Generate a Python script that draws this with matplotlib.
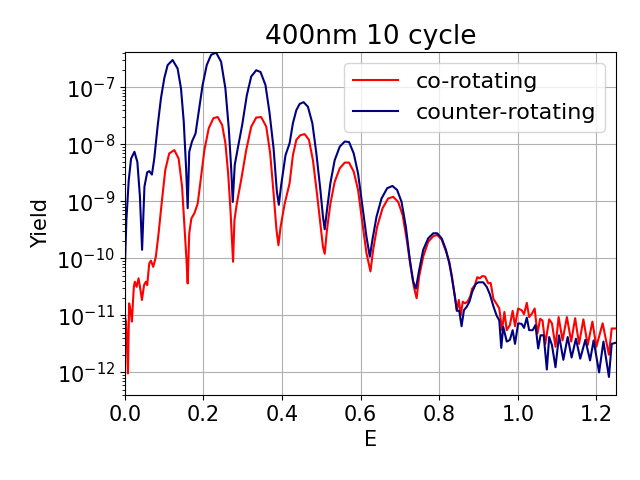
import numpy as np
import matplotlib
matplotlib.use('Agg')
import matplotlib.pyplot as plt

# energies and log10(yield)
co_E = [0.000, 0.0036, 0.008, 0.011, 0.0145, 0.018, 0.023, 0.0255, 0.030, 0.035,
        0.040, 0.0436, 0.049, 0.0536, 0.057, 0.0622, 0.0665, 0.0724, 0.079, 0.086,
        0.0946, 0.103, 0.113, 0.126, 0.137, 0.1457, 0.152, 0.157, 0.160, 0.164,
        0.1694, 0.177, 0.1855, 0.194, 0.2026, 0.2135, 0.2255, 0.2365, 0.2477, 0.256,
        0.263, 0.2689, 0.2755, 0.279, 0.285, 0.296, 0.309, 0.3217, 0.3344, 0.347,
        0.360, 0.370, 0.3786, 0.386, 0.391, 0.3964, 0.4066, 0.4194, 0.4278, 0.4365,
        0.4466, 0.4577, 0.4686, 0.4788, 0.489, 0.4977, 0.5043, 0.5087, 0.5145, 0.5232,
        0.534, 0.547, 0.5597, 0.5707, 0.5826, 0.5936, 0.6048, 0.615, 0.6252, 0.632,
        0.642, 0.656, 0.670, 0.683, 0.6957, 0.707, 0.717, 0.7273, 0.7357, 0.7426,
        0.749, 0.7594, 0.772, 0.785, 0.795, 0.8064, 0.8173, 0.8258, 0.832, 0.845,
        0.850, 0.855, 0.860, 0.866, 0.872, 0.879, 0.884, 0.891, 0.897, 0.903,
        0.910, 0.917, 0.925, 0.931, 0.938, 0.948, 0.953, 0.960, 0.966, 0.972,
        0.980, 0.987, 0.993, 1.001, 1.010, 1.016, 1.023, 1.029, 1.036, 1.043,
        1.050, 1.057, 1.063, 1.070, 1.080, 1.087, 1.096, 1.104, 1.114, 1.125,
        1.136, 1.146, 1.156, 1.167, 1.178, 1.190, 1.200, 1.216, 1.232, 1.239,
        1.250]
co_logY = [-11.00, -11.14, -12.02, -10.79, -10.91, -11.11, -10.50, -10.41, -10.50, -10.35,
           -10.56, -10.73, -10.47, -10.41, -10.47, -10.09, -10.04, -10.15, -9.97, -9.56,
           -8.98, -8.45, -8.16, -8.10, -8.25, -8.74, -9.45, -10.03, -10.44, -9.56,
           -9.30, -9.21, -9.04, -8.57, -8.10, -7.72, -7.54, -7.52, -7.66, -7.98,
           -8.51, -9.15, -10.06, -9.33, -9.04, -8.63, -8.10, -7.69, -7.53, -7.52,
           -7.69, -8.16, -8.86, -9.50, -9.77, -9.45, -9.05, -8.68, -8.19, -7.92,
           -7.84, -7.82, -7.92, -8.28, -8.86, -9.39, -9.80, -9.92, -9.50, -9.04,
           -8.66, -8.42, -8.32, -8.32, -8.48, -8.80, -9.39, -9.91, -10.23, -9.85,
           -9.45, -9.12, -8.95, -8.92, -9.01, -9.24, -9.65, -10.15, -10.50, -10.70,
           -10.32, -9.97, -9.71, -9.61, -9.59, -9.67, -9.88, -10.06, -10.30, -10.91,
           -10.73, -11.00, -10.76, -10.79, -10.76, -10.67, -10.53, -10.47, -10.33, -10.35,
           -10.31, -10.32, -10.44, -10.43, -10.71, -10.82, -10.88, -11.26, -10.94, -11.26,
           -11.17, -10.92, -11.19, -10.88, -10.91, -10.98, -10.78, -11.03, -10.97, -10.88,
           -11.32, -11.06, -11.09, -11.50, -11.07, -11.14, -11.55, -11.03, -11.44, -11.03,
           -11.46, -11.05, -11.50, -11.07, -11.52, -11.11, -11.55, -11.14, -11.69, -11.23,
           -11.23]

counter_E = [0.000, 0.004, 0.010, 0.016, 0.0245, 0.032, 0.0385, 0.044, 0.050, 0.057,
             0.0622, 0.069, 0.075, 0.0834, 0.092, 0.1005, 0.109, 0.1217, 0.1344, 0.143,
             0.150, 0.156, 0.160, 0.164, 0.171, 0.180, 0.188, 0.198, 0.2085, 0.2196,
             0.2324, 0.245, 0.256, 0.2646, 0.2707, 0.2747, 0.2798, 0.2875, 0.2987, 0.3105,
             0.3217, 0.3344, 0.3454, 0.358, 0.368, 0.3786, 0.387, 0.392, 0.398, 0.409,
             0.4194, 0.4278, 0.4365, 0.445, 0.455, 0.466, 0.4773, 0.4875, 0.4977, 0.5043,
             0.5087, 0.5145, 0.5232, 0.534, 0.547, 0.5597, 0.5707, 0.5826, 0.5936, 0.6048,
             0.615, 0.6235, 0.630, 0.6405, 0.6533, 0.6676, 0.681, 0.693, 0.7043, 0.7153,
             0.7255, 0.734, 0.7408, 0.749, 0.7594, 0.772, 0.785, 0.795, 0.8064, 0.8173,
             0.8258, 0.832, 0.840, 0.845, 0.851, 0.857, 0.863, 0.870, 0.877, 0.884,
             0.893, 0.900, 0.912, 0.921, 0.929, 0.938, 0.946, 0.953, 0.958, 0.963,
             0.972, 0.980, 0.987, 0.993, 1.001, 1.010, 1.016, 1.023, 1.029, 1.038,
             1.045, 1.052, 1.058, 1.066, 1.074, 1.080, 1.087, 1.096, 1.105, 1.116,
             1.127, 1.137, 1.148, 1.159, 1.172, 1.184, 1.193, 1.207, 1.218, 1.232,
             1.239, 1.250]
counter_logY = [-10.21, -9.33, -8.63, -8.25, -8.13, -8.31, -8.92, -9.85, -8.74, -8.49,
                -8.47, -8.53, -8.25, -7.69, -7.19, -6.84, -6.61, -6.52, -6.67, -7.02,
                -7.60, -8.42, -9.12, -8.13, -7.95, -7.81, -7.43, -6.96, -6.61, -6.43,
                -6.39, -6.55, -7.02, -7.72, -8.42, -9.01, -8.36, -8.07, -7.66, -7.14,
                -6.81, -6.70, -6.73, -6.96, -7.43, -8.07, -8.83, -9.06, -8.71, -8.19,
                -7.98, -7.63, -7.40, -7.29, -7.26, -7.34, -7.63, -8.16, -8.80, -9.27,
                -9.49, -9.15, -8.68, -8.28, -8.04, -7.95, -7.96, -8.16, -8.51, -9.09,
                -9.62, -9.97, -9.68, -9.27, -8.95, -8.77, -8.73, -8.80, -9.01, -9.45,
                -10.03, -10.41, -10.53, -10.21, -9.85, -9.65, -9.56, -9.56, -9.65, -9.85,
                -10.09, -10.32, -10.67, -10.92, -10.92, -11.19, -10.91, -10.85, -10.76, -10.59,
                -10.45, -10.42, -10.42, -10.50, -10.63, -10.84, -11.00, -11.09, -11.57, -11.20,
                -11.46, -11.43, -11.26, -11.50, -11.14, -11.15, -11.22, -11.04, -11.26, -11.26,
                -11.17, -11.58, -11.35, -11.35, -11.95, -11.38, -11.52, -11.91, -11.35, -11.78,
                -11.38, -11.74, -11.41, -11.76, -11.43, -11.79, -11.44, -12.00, -11.46, -12.08,
                -11.50, -11.48]

co_yield = 10.0 ** np.array(co_logY)
counter_yield = 10.0 ** np.array(counter_logY)

fig, ax = plt.subplots(figsize=(6.4, 4.8), dpi=100)
fig.subplots_adjust(left=0.195, right=0.9625, top=0.892, bottom=0.177)

ax.semilogy(co_E, co_yield, color='red', lw=1.5, label='co-rotating')
ax.semilogy(counter_E, counter_yield, color='navy', lw=1.5, label='counter-rotating')

ax.set_xlim(0, 1.25)
ax.set_ylim(4e-13, 4.2e-7)
ax.grid(True)
ax.set_xlabel('E', fontsize=15)
ax.set_ylabel('Yield', fontsize=15)
ax.set_title('400nm 10 cycle', fontsize=19)
ax.tick_params(axis='both', which='major', labelsize=15)
ax.legend(loc='upper right', fontsize=16)

fig.savefig('out.png')
